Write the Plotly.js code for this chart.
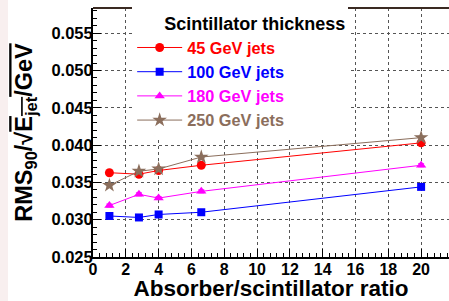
<!DOCTYPE html>
<html><head><meta charset="utf-8">
<script src="https://cdn.plot.ly/plotly-3.0.1.min.js"></script>
<style>html,body{margin:0;padding:0;background:#fff;}</style>
</head><body>
<div id="chart" style="width:449px;height:301px;"></div>
<script>
const ratio = [1, 2.8, 4, 6.6, 20];
const rms45 = [0.0363, 0.0361, 0.0366, 0.0373, 0.0403];
const rms100 = [0.0305, 0.0303, 0.0307, 0.0310, 0.0344];
const rms180 = [0.0319, 0.0334, 0.0329, 0.0338, 0.0373];
const rms250 = [0.0346, 0.0365, 0.0368, 0.0384, 0.0410];
const err = [0.0002, 0.0002, 0.0002, 0.0002, 0.0002];
const names = ['45 GeV jets', '100 GeV jets', '180 GeV jets', '250 GeV jets'];
const colors = ['#ff0000', '#0000ff', '#ff00ff', '#8b6e5c'];
const symbols = ['circle', 'square', 'triangle-up', 'star'];
const sizes = [9, 8, 9, 11];
const series = [rms45, rms100, rms180, rms250];

const traces = series.map((ys, i) => ({
  x: ratio, y: ys, type: 'scatter', mode: 'lines+markers',
  name: '<span style="color:' + colors[i] + '">' + names[i] + '</span>',
  line: {color: colors[i], width: 1},
  marker: {color: colors[i], symbol: symbols[i], size: sizes[i]},
  error_y: {type: 'data', array: err, visible: true, color: colors[i], thickness: 1, width: 3}
}));

const font = 'Liberation Sans, Arial, sans-serif';
const layout = {
  width: 449, height: 301,
  margin: {l: 93, r: 0, t: 8, b: 44},
  paper_bgcolor: '#ffffff', plot_bgcolor: '#ffffff',
  font: {family: font, color: '#000', size: 16},
  showlegend: true,
  legend: {
    x: 0.11, y: 1.004, xanchor: 'left', yanchor: 'top',
    bgcolor: '#ffffff', borderwidth: 0,
    font: {family: font, size: 16.3, weight: 'bold'},
    title: {text: '\u00a0\u00a0\u00a0\u00a0\u00a0\u00a0Scintillator thickness', font: {family: font, size: 18, color: '#000', weight: 'bold'}},
    tracegroupgap: 0, itemwidth: 45
  },
  xaxis: {
    range: [0, 21.7], dtick: 2, tick0: 0,
    ticks: 'inside', ticklen: 8, tickwidth: 1, tickcolor: '#000',
    minor: {dtick: 0.4, ticks: 'inside', ticklen: 4, tickcolor: '#000', showgrid: false},
    showline: true, linecolor: '#000', linewidth: 2, mirror: false,
    showgrid: true, gridcolor: '#555', griddash: 'dot', gridwidth: 1,
    zeroline: false, ticklabelstandoff: -3,
    tickfont: {family: font, size: 16, weight: 'bold'},
    title: {text: 'Absorber/scintillator ratio', font: {family: font, size: 22.5, weight: 'bold'}, standoff: 9}
  },
  yaxis: {
    range: [0.025, 0.05838], dtick: 0.005, tick0: 0.025, tickformat: '.3f',
    ticks: 'inside', ticklen: 8, tickwidth: 1, tickcolor: '#000',
    minor: {dtick: 0.001, ticks: 'inside', ticklen: 4, tickcolor: '#000', showgrid: false},
    showline: true, linecolor: '#000', linewidth: 2, mirror: false,
    showgrid: true, gridcolor: '#555', griddash: 'dot', gridwidth: 1,
    zeroline: false, ticklabelstandoff: -5,
    tickfont: {family: font, size: 16.5, weight: 'bold'},
    title: {text: '<b>RMS<sub>90</sub>/\u221A<span style="text-decoration:overline">E<sub>jet</sub>/GeV</span></b>', font: {family: font, size: 23.5, weight: 'bold'}, standoff: 12}
  },
  shapes: [
    {type: 'line', xref: 'paper', yref: 'paper', x0: 0, x1: 1, y0: 1, y1: 1, line: {color: '#3a2a22', width: 2}, layer: 'above'},
    {type: 'rect', xref: 'paper', yref: 'paper', x0: -93/356, x1: -85/356, y0: -44/249, y1: 1 + 8/249, fillcolor: '#f8efef', line: {width: 0}, layer: 'below'}
  ]
};
Plotly.newPlot('chart', traces, layout, {staticPlot: true, displayModeBar: false});
</script>
</body></html>
